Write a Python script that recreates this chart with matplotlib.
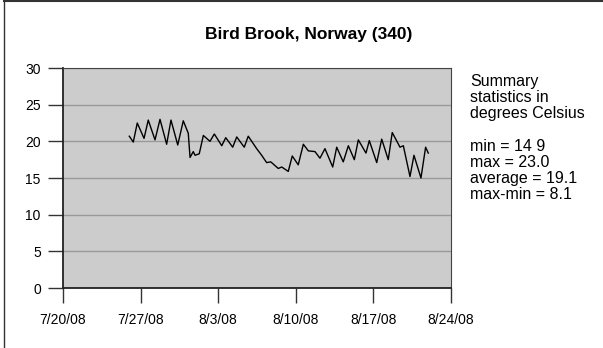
import matplotlib
matplotlib.use("Agg")
import matplotlib.pyplot as plt
from matplotlib.lines import Line2D
import datetime as dt

plt.rcParams["font.family"] = ["Liberation Sans", "DejaVu Sans"]

# ==============================================================================
title = "Bird Brook, Norway (340)"
start = dt.datetime(2008, 7, 20)

# time of each reading, in days after 7/20/08
days = [5.98, 6.34, 6.70, 7.31, 7.69, 8.30, 8.75, 9.35, 9.74, 10.35,
        10.85, 11.30, 11.46, 11.75, 11.91, 12.29, 12.66, 13.26, 13.65, 14.32,
        14.68, 15.31, 15.67, 16.35, 16.71, 17.47, 17.92, 18.37, 18.74, 19.42,
        19.73, 20.32, 20.68, 21.22, 21.68, 22.13, 22.73, 23.18, 23.63, 24.33,
        24.69, 25.28, 25.74, 26.28, 26.64, 27.33, 27.63, 28.30, 28.75, 29.34,
        29.70, 30.40, 30.70, 31.30, 31.66, 32.29, 32.71, 32.95]
temps = [20.7, 19.9, 22.5, 20.4, 22.9, 20.2, 23.0, 19.6, 22.9, 19.5,
         22.8, 21.1, 17.8, 18.6, 18.1, 18.3, 20.8, 20.0, 21.0, 19.4,
         20.5, 19.2, 20.6, 19.2, 20.7, 19.0, 18.1, 17.1, 17.2, 16.3,
         16.5, 15.9, 18.0, 16.8, 19.6, 18.7, 18.6, 17.7, 19.0, 16.5,
         19.2, 17.2, 19.4, 17.5, 20.2, 18.4, 20.1, 17.1, 20.3, 17.5,
         21.2, 19.2, 19.4, 15.2, 18.1, 15.0, 19.2, 18.4]

summary = ["Summary", "statistics in", "degrees Celsius", "",
           "min = 14 9", "max = 23.0", "average = 19.1", "max-min = 8.1"]

y_ticks = [0, 5, 10, 15, 20, 25, 30]
x_tick_days = [0, 7, 14, 21, 28, 35]
x_tick_labels = ["7/20/08", "7/27/08", "8/3/08", "8/10/08", "8/17/08", "8/24/08"]
# ==============================================================================
times = [start + dt.timedelta(days=d) for d in days]
x_ticks = [start + dt.timedelta(days=d) for d in x_tick_days]

fig = plt.figure(figsize=(6.03, 3.48), dpi=100)
ax = fig.add_axes([63 / 603, 1 - 288 / 348, (451 - 63) / 603, (288 - 68) / 348])
ax.set_facecolor("#cccccc")

ax.plot(times, temps, color="black", linewidth=1.0)

ax.set_ylim(0, 30)
ax.set_yticks(y_ticks)
ax.set_xlim(x_ticks[0], x_ticks[-1])
ax.set_xticks(x_ticks)
ax.set_xticklabels(x_tick_labels)

ax.grid(axis="y", color="#999999", linewidth=1.0)
ax.set_axisbelow(True)
ax.tick_params(axis="both", direction="out", length=11, width=1.0,
               colors="#333333", labelcolor="black", labelsize=10, pad=5)
ax.tick_params(axis="x", pad=7)
for side in ["top", "right"]:
    ax.spines[side].set_color("#444444")
for side in ["left", "bottom"]:
    ax.spines[side].set_color("#222222")
    ax.spines[side].set_linewidth(1.3)

fig.text(309 / 603, 1 - 35 / 348, title, ha="center", va="center",
         fontsize=12.5, fontweight="bold")

fig.text(470 / 603, 1 - 74 / 348, "\n".join(summary), ha="left", va="top",
         fontsize=11.5, linespacing=1.1)

# outer frame: left and top edges only
fig.add_artist(Line2D([4 / 603, 4 / 603], [0, 1], color="#333333",
                      linewidth=1.0, transform=fig.transFigure))
fig.add_artist(Line2D([4 / 603, 1], [1 - 0.5 / 348, 1 - 0.5 / 348],
                      color="#333333", linewidth=1.5,
                      transform=fig.transFigure))

plt.savefig("out.png", dpi=100)
